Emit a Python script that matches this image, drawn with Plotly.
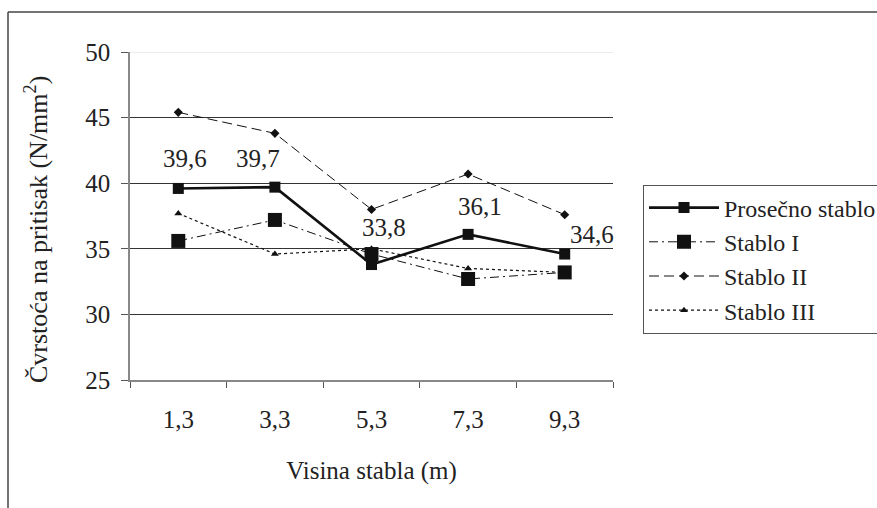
import plotly.graph_objects as go

# Tree height positions (m) and compressive strength series (N/mm²)
heights = ["1,3", "3,3", "5,3", "7,3", "9,3"]
prosecno = [39.6, 39.7, 33.8, 36.1, 34.6]
stablo_1 = [35.6, 37.2, 34.6, 32.7, 33.2]
stablo_2 = [45.4, 43.8, 38.0, 40.7, 37.6]
stablo_3 = [37.7, 34.6, 35.0, 33.5, 33.2]

# Pixel offsets of the value labels relative to their points
label_shifts = [(7, 30), (-17, 29), (12, 37), (12, 28), (27, 20)]

FONT = "Times New Roman, Liberation Serif, serif"
W, H = 877, 508
ML, MR, MT, MB = 130, 264, 52, 128
PW, PH = W - ML - MR, H - MT - MB


def px_to_paper(px, py):
    return (px - ML) / PW, (H - MB - py) / PH


fig = go.Figure()

fig.add_trace(go.Scatter(
    x=heights, y=prosecno, name="Prosečno stablo", mode="lines+markers",
    line=dict(color="#111111", width=2.6),
    marker=dict(symbol="square", size=11, color="#111111"),
))
fig.add_trace(go.Scatter(
    x=heights, y=stablo_1, name="Stablo I", mode="lines+markers",
    line=dict(color="#111111", width=1, dash="9px,4px,2px,4px"),
    marker=dict(symbol="square", size=14, color="#111111"),
))
fig.add_trace(go.Scatter(
    x=heights, y=stablo_2, name="Stablo II", mode="lines+markers",
    line=dict(color="#111111", width=1, dash="10px,5px"),
    marker=dict(symbol="diamond", size=7, color="#111111"),
))
fig.add_trace(go.Scatter(
    x=heights, y=stablo_3, name="Stablo III", mode="lines+markers",
    line=dict(color="#111111", width=1.2, dash="3px,3px"),
    marker=dict(symbol="triangle-up", size=7, color="#111111"),
))

# Value labels for the average tree
for h, v, (dx, dy) in zip(heights, prosecno, label_shifts):
    fig.add_annotation(
        x=h, y=v, text=f"{v:.1f}".replace(".", ","), showarrow=False,
        xanchor="center", yanchor="middle", xshift=dx, yshift=dy,
        font=dict(family=FONT, size=25, color="#222222"),
    )

# Y axis title, placed a little below the axis centre
tx, ty = px_to_paper(36, 230)
fig.add_annotation(
    xref="paper", yref="paper", x=tx, y=ty, textangle=-90,
    text="Čvrstoća na pritisak (N/mm<sup>2</sup>)", showarrow=False,
    xanchor="center", yanchor="middle",
    font=dict(family=FONT, size=26, color="#222222"),
)

# Outer chart frame: top and left edges
fx, fy = px_to_paper(8, 12)
_, fb = px_to_paper(8, H + 5)
fr, _ = px_to_paper(W + 5, 12)
frame = dict(color="#444444", width=1.5)
fig.add_shape(type="line", xref="paper", yref="paper",
              x0=fx, x1=fr, y0=fy, y1=fy, line=frame, layer="below")
fig.add_shape(type="line", xref="paper", yref="paper",
              x0=fx, x1=fx, y0=fy, y1=fb, line=frame, layer="below")

# Faint top gridline at 50
fig.add_shape(type="line", xref="paper", yref="y", x0=0, x1=1, y0=50, y1=50,
              line=dict(color="#e6e6e6", width=1.5), layer="above")

lx, ly = px_to_paper(643, 259)

fig.update_layout(
    width=W, height=H,
    margin=dict(l=ML, r=MR, t=MT, b=MB, autoexpand=False),
    paper_bgcolor="white", plot_bgcolor="white",
    font=dict(family=FONT, color="#222222"),
    showlegend=True,
    legend=dict(
        x=lx, y=ly, xanchor="left", yanchor="middle",
        bordercolor="#555555", borderwidth=1, bgcolor="white",
        font=dict(family=FONT, size=24, color="#222222"),
        itemwidth=70, tracegroupgap=0,
    ),
    xaxis=dict(
        type="category", range=[-0.5, 4.5],
        showline=True, linecolor="#888888", linewidth=1.5,
        ticks="outside", tickson="boundaries", ticklen=6, tickcolor="#555555",
        showgrid=False, zeroline=False,
        tickfont=dict(family=FONT, size=25, color="#222222"),
        ticklabelstandoff=16,
        title=dict(text="Visina stabla (m)", standoff=30,
                   font=dict(family=FONT, size=25, color="#222222")),
        automargin=False,
    ),
    yaxis=dict(
        range=[25, 50], dtick=5, tick0=25,
        showline=True, linecolor="#888888", linewidth=1.5,
        ticks="outside", ticklen=7, tickcolor="#555555",
        showgrid=True, gridcolor="#333333", gridwidth=1,
        zeroline=False,
        tickfont=dict(family=FONT, size=25, color="#222222"),
        ticklabelstandoff=6,
        automargin=False,
    ),
)

fig.write_html("out.html")
